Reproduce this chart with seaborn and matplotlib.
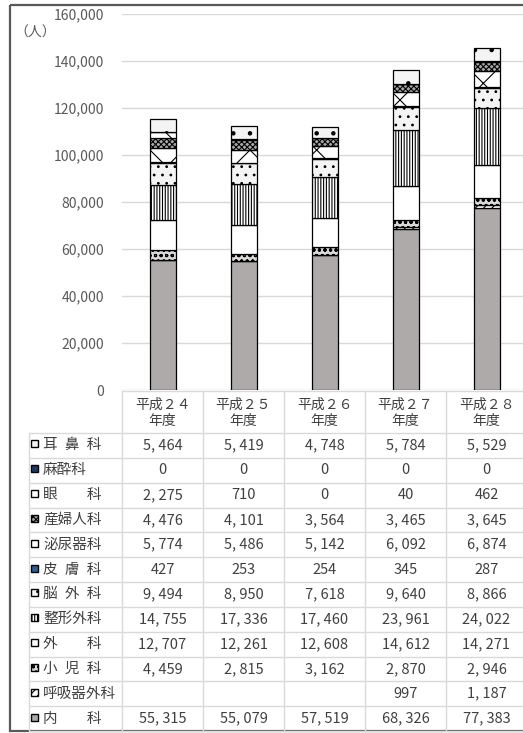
import numpy as np
import pandas as pd
import matplotlib
matplotlib.use("Agg")
import matplotlib.pyplot as plt
import matplotlib.transforms as mtransforms
from matplotlib.patches import Rectangle
import seaborn as sns

# ---- data -------------------------------------------------------------
years = ["平成２４\n年度", "平成２５\n年度", "平成２６\n年度", "平成２７\n年度", "平成２８\n年度"]

# table rows, top to bottom (the bars stack in the reverse order)
departments = ["耳\u2002鼻\u2002科", "麻酔科", "眼　　科", "産婦人科", "泌尿器科", "皮\u2002膚\u2002科",
               "脳\u2002外\u2002科", "整形外科", "外　　科", "小\u2002児\u2002科", "呼吸器外科", "内　　科"]

ent = [5464, 5419, 4748, 5784, 5529]
anesthesia = [0, 0, 0, 0, 0]
ophthalmology = [2275, 710, 0, 40, 462]
obgyn = [4476, 4101, 3564, 3465, 3645]
urology = [5774, 5486, 5142, 6092, 6874]
dermatology = [427, 253, 254, 345, 287]
neurosurgery = [9494, 8950, 7618, 9640, 8866]
orthopedics = [14755, 17336, 17460, 23961, 24022]
surgery = [12707, 12261, 12608, 14612, 14271]
pediatrics = [4459, 2815, 3162, 2870, 2946]
thoracic = [None, None, None, 997, 1187]
internal = [55315, 55079, 57519, 68326, 77383]

series = [ent, anesthesia, ophthalmology, obgyn, urology, dermatology,
          neurosurgery, orthopedics, surgery, pediatrics, thoracic, internal]

y_ticks = [0, 20000, 40000, 60000, 80000, 100000, 120000, 140000, 160000]

# fill colour and hatch for each department, same order as the table rows
styles = [("#f4f4f4", "."), ("#203864", None), ("#ffffff", "\\"), ("#a8a8a8", "xxxxxx"),
          ("#ffffff", "x"), ("#2e5f94", None), ("#f4f4f4", ".."), ("#ffffff", "||||||"),
          ("#ffffff", None), ("#d8d8d8", "ooo"), ("#ffffff", "////"), ("#aeaaaa", None)]

# ---- style ------------------------------------------------------------
sns.set_style("white")
plt.rcParams["font.family"] = ["Noto Sans CJK JP", "DejaVu Sans"]
plt.rcParams["hatch.linewidth"] = 0.8

W, H = 523, 733
fig = plt.figure(figsize=(W / 100, H / 100), dpi=100)
ax = fig.add_axes([122 / W, (H - 390) / H, 405 / W, 376 / H])

bottom = np.zeros(len(years))
for vals, (face, hatch) in reversed(list(zip(series, styles))):
    h = np.nan_to_num(np.array(vals, dtype=float))
    sub = pd.DataFrame({"year": years, "count": h})
    sns.barplot(data=sub, x="year", y="count", order=years, color=face, saturation=1,
                width=26 / 81, edgecolor="black", linewidth=0.9, hatch=hatch,
                bottom=bottom, errorbar=None, ax=ax)
    bottom = bottom + h

ax.set_xlim(-0.5, len(years) - 0.5)
ax.set_ylim(0, 160000)
ax.set_yticks(y_ticks)
ax.set_yticklabels([f"{v:,}" for v in y_ticks], fontsize=10, color="#595959")
ax.tick_params(axis="y", length=0, pad=13)
ax.set_xticks([])
ax.set_xlabel("")
ax.set_ylabel("")
ax.grid(axis="y", color="#d9d9d9", linewidth=1)
ax.set_axisbelow(True)
for s in ax.spines.values():
    s.set_visible(False)

# ---- overlay in pixel coordinates: frame, unit label and data table ----
ov = fig.add_axes([0, 0, 1, 1])
ov.set_xlim(0, W)
ov.set_ylim(H, 0)
ov.axis("off")
bt = mtransforms.blended_transform_factory(ax.transData, ov.transData)

ov.add_patch(Rectangle((9.5, 4.5), 560, 726.5, facecolor="none", edgecolor="#595959",
                       linewidth=1.6, clip_on=False))
ov.text(14, 33, "（人）", fontsize=10, color="#595959", ha="left", va="center")

grid_c = "#d9d9d9"
txt_c = "#404040"
head_top, head_bot = 390.5, 433.0
row_h = (731.0 - head_bot) / len(departments)

# header row
ov.plot([-0.5, len(years) - 0.5], [head_top, head_top], transform=bt, color=grid_c, lw=1)
for i, yr in enumerate(years):
    ov.text(i, 413, yr, transform=bt, ha="center", va="center", fontsize=10,
            color=txt_c, linespacing=1.25)

# horizontal row lines
for r in range(len(departments) + 1):
    y = head_bot + r * row_h
    ov.plot([29, W + 10], [y, y], color=grid_c, lw=1)
# vertical lines
ov.plot([29, 29], [head_bot, 731], color=grid_c, lw=1)
for i in range(len(years)):
    ov.plot([i - 0.5, i - 0.5], [head_top, 731], transform=bt, color=grid_c, lw=1)

# body rows
for r, (name, vals, (face, hatch)) in enumerate(zip(departments, series, styles)):
    yc = head_bot + (r + 0.5) * row_h
    ov.add_patch(Rectangle((31, yc - 5), 7, 7, facecolor=face, edgecolor="black",
                           hatch=hatch, linewidth=1))
    ov.text(43, yc, name, ha="left", va="center", fontsize=10.5, color=txt_c)
    for i, v in enumerate(vals):
        if v is None:
            continue
        ov.text(i, yc, f"{v:,}".replace(",", ", "), transform=bt, ha="center",
                va="center", fontsize=10.5, color=txt_c)

fig.savefig("out.png", dpi=100)
